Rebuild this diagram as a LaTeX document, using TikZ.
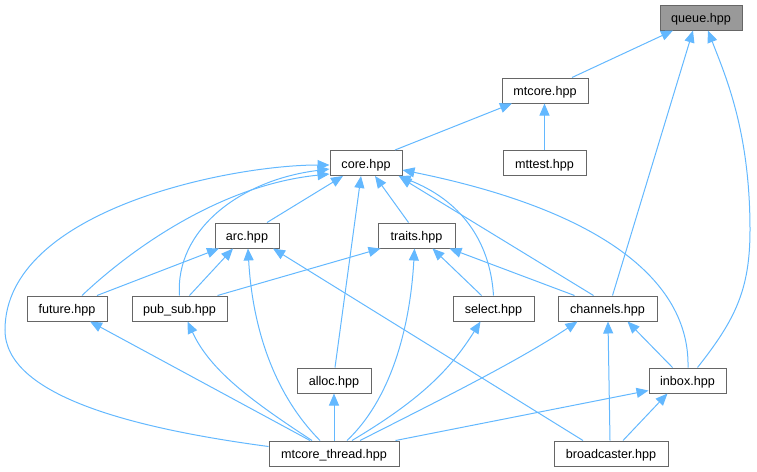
\documentclass[tikz,border=0pt]{standalone}
\usepackage{fontspec}
\setmainfont{Liberation Sans}
\usetikzlibrary{arrows.meta,calc}
\definecolor{edgec}{HTML}{63B8FF}
\definecolor{boxc}{HTML}{666666}
\definecolor{hl}{HTML}{999999}
\tikzset{
  file/.style={draw=boxc,line width=1pt,fill=white,minimum height=25pt,inner sep=0pt,text height=10.5pt,text depth=0pt,font=\fontsize{12.6}{14}\selectfont,text=black},
  cur/.style={file,fill=hl},
  dep/.style={draw=edgec,line width=1pt,-{Triangle[length=12pt,width=10pt,fill=edgec]}},
}
\begin{document}
\begin{tikzpicture}[x=1pt,y=-1pt]
\useasboundingbox (0,0) rectangle (757,471);
% nodes
\node[cur,minimum width=82pt] (queue) at (701,17.5) {queue.hpp};
\node[file,minimum width=86pt] (mtcore) at (545,90.5) {mtcore.hpp};
\node[file,minimum width=83pt] (mttest) at (544.5,163) {mttest.hpp};
\node[file,minimum width=72pt] (core) at (366,163) {core.hpp};
\node[file,minimum width=64pt] (arc) at (247,235.5) {arc.hpp};
\node[file,minimum width=77pt] (traits) at (416.5,235.5) {traits.hpp};
\node[file,minimum width=80pt] (future) at (67,308.5) {future.hpp};
\node[file,minimum width=95pt] (pubsub) at (179.5,308.5) {pub\_sub.hpp};
\node[file,minimum width=81pt] (select) at (493.5,308.5) {select.hpp};
\node[file,minimum width=99pt] (channels) at (607.5,308.5) {channels.hpp};
\node[file,minimum width=74pt] (alloc) at (334,380.5) {alloc.hpp};
\node[file,minimum width=77pt] (inbox) at (687.5,380.5) {inbox.hpp};
\node[file,minimum width=130pt] (thread) at (334,453.5) {mtcore\_thread.hpp};
\node[file,minimum width=114pt] (bcast) at (611,453.5) {broadcaster.hpp};
% edges to queue
\draw[dep] ($(mtcore.north)+(27,0)$) -- ($(queue.south)+(-28,0)$);
\draw[dep] ($(channels.north)+(5,0)$) -- ($(queue.south)+(-8,0)$);
\draw[dep] ($(inbox.north)+(10,0)$) .. controls (735,320) and (750,290) .. (750,230) .. controls (750,130) and (725,75) .. ($(queue.south)+(7,0)$);
% to mtcore
\draw[dep] ($(core.north)+(29,0)$) -- ($(mtcore.south)+(-33,0)$);
\draw[dep] (mttest.north) -- ($(mtcore.south)+(-0.5,0)$);
% to core
\draw[dep] ($(arc.north)+(20,0)$) -- ($(core.south)+(-23,0)$);
\draw[dep] ($(traits.north)+(-8,0)$) -- ($(core.south)+(9,0)$);
\draw[dep] ($(alloc.north)+(1,0)$) -- ($(core.south)+(-5,0)$);
\draw[dep] ($(future.north)+(15,0)$) .. controls (130,250) and (220,185) .. ($(core.west)+(0,11)$);
\draw[dep] (pubsub.north) .. controls (175,230) and (240,180) .. ($(core.west)+(0,6)$);
\draw[dep] ($(thread.west)+(0,-7)$) .. controls (130,428) and (5,395) .. (5,330) .. controls (5,210) and (230,165) .. ($(core.west)+(0,2)$);
\draw[dep] (select.north) .. controls (490,240) and (460,200) .. ($(core.south east)+(-4,0)$);
\draw[dep] ($(channels.north)+(-14,0)$) -- ($(core.south east)+(-3,1)$);
\draw[dep] ($(inbox.north)+(0.5,0)$) .. controls (690,280) and (600,210) .. ($(core.east)+(0,7)$);
% to arc
\draw[dep] ($(future.north)+(30,0)$) -- ($(arc.south)+(-28,0)$);
\draw[dep] ($(pubsub.north)+(10,0)$) -- ($(arc.south)+(-14,0)$);
\draw[dep] ($(thread.north)+(-14,0)$) .. controls (270,390) and (252,320) .. ($(arc.south)+(1,0)$);
\draw[dep] ($(bcast.north)+(-28,0)$) -- ($(arc.south)+(26,0)$);
% to traits
\draw[dep] ($(pubsub.north)+(38,0)$) -- ($(traits.south)+(-36,0)$);
\draw[dep] ($(select.north)+(-12,0)$) -- ($(traits.south)+(16,0)$);
\draw[dep] ($(channels.north)+(-33,0)$) -- ($(traits.south)+(33,0)$);
\draw[dep] ($(thread.north)+(13,0)$) .. controls (390,400) and (410,330) .. ($(traits.south)+(-2,0)$);
% to future, pub_sub, alloc, select, channels, inbox
\draw[dep] ($(thread.north)+(-24,0)$) -- ($(future.south)+(23,0)$);
\draw[dep] ($(thread.north)+(-22,0)$) .. controls (250,400) and (210,370) .. ($(pubsub.south)+(8,0)$);
\draw[dep] (thread.north) -- (alloc.south);
\draw[dep] ($(thread.north)+(18,0)$) .. controls (420,400) and (450,370) .. ($(select.south)+(-13,0)$);
\draw[dep] ($(thread.north)+(26,0)$) .. controls (440,400) and (520,360) .. ($(channels.south)+(-30,0)$);
\draw[dep] ($(thread.north east)+(-4,0)$) -- ($(inbox.south west)+(0,-3)$);
% broadcaster, inbox
\draw[dep] ($(bcast.north)+(-1,0)$) -- ($(channels.south)+(0.5,0)$);
\draw[dep] ($(bcast.north)+(12,0)$) -- ($(inbox.south)+(-20,0)$);
\draw[dep] ($(inbox.north)+(-15,0)$) -- ($(channels.south)+(20,0)$);
\end{tikzpicture}
\end{document}
